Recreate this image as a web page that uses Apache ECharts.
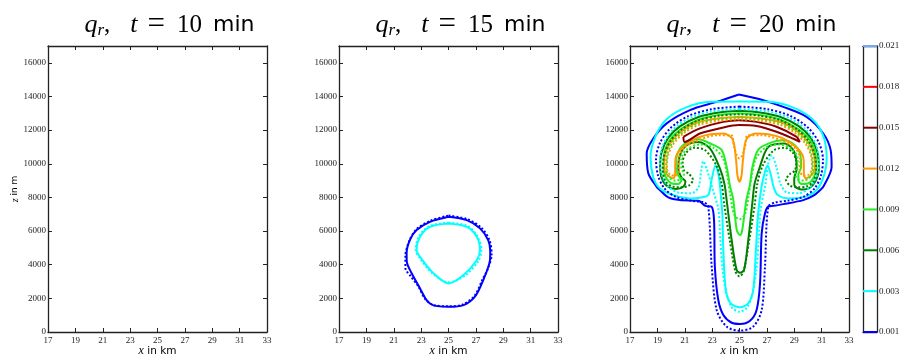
<!DOCTYPE html>
<html>
<head>
<meta charset="utf-8">
<script src="https://cdn.jsdelivr.net/npm/echarts@6/dist/echarts.min.js"></script>
<style>
  html, body { margin: 0; padding: 0; background: #fff; }
  #chart { width: 902px; height: 357px; }
</style>
</head>
<body>
<div id="chart"></div>
<script>
// contour levels of the colour bar
const levels = ["0.001", "0.003", "0.006", "0.009", "0.012", "0.015", "0.018", "0.021"];
const levelColors = ["#0000ff", "#00ffff", "#008000", "#22ee22", "#ff9900", "#8b0000", "#ff0000", "#6fa8ff"];
const times = [10, 15, 20];

// t = 15 min, points are [x in km, z in m]
const blueSolid15 = [[25,6850],[26.33,6650],[27.3,6160],[27.9,5460],[28.05,4800],[28.03,4280],[27.54,3090],[26.93,2100],[26.1,1600],[25,1500],[23.9,1580],[23.4,1900],[22.92,2590],[22.31,3490],[21.95,4200],[21.94,4700],[22.2,5500],[22.67,6060],[23.65,6550],[25,6850]];
const blueDot15 = [[25,6920],[26.4,6700],[27.4,6200],[28.0,5450],[28.15,4600],[27.85,3700],[27.5,3150],[26.9,2150],[26.0,1620],[25,1530],[23.9,1600],[23.3,1950],[22.8,2700],[22.25,3300],[21.85,3800],[21.85,4500],[22.15,5450],[22.65,6100],[23.7,6620],[25,6920]];
const cyanSolid15 = [[25,6450],[26.33,6250],[27.07,5660],[27.3,4870],[27.07,4280],[26.1,3390],[25,2890],[23.9,3490],[22.92,4470],[22.67,4870],[22.92,5660],[23.65,6250],[25,6450]];
const cyanDot15 = [[25,6500],[26.4,6300],[27.1,5700],[27.4,4900],[27.2,4250],[26.2,3350],[25,2950],[23.8,3500],[22.85,4450],[22.6,4900],[22.85,5700],[23.6,6300],[25,6500]];

// t = 20 min
const blueSolid20 = [[24.96,14120],[23.33,13680],[21.38,13190],[19.68,12400],[18.7,11500],[18.22,10610],[18.34,9430],[18.95,8630],[19.19,8430],[19.8,8000],[20.65,7840],[22.0,7800],[22.5,7500],[22.97,7440],[23.14,6650],[23.2,3880],[23.45,1900],[23.82,1010],[24.43,550],[25.04,475],[25.77,670],[26.25,1310],[26.5,2890],[26.62,5860],[26.86,7050],[27.1,7450],[27.5,7500],[28.2,7600],[29.66,7840],[30.4,8100],[30.88,8430],[31.12,8630],[31.73,9820],[31.66,10810],[31.12,11800],[29.9,12790],[28.2,13380],[26.74,13780],[24.96,14120]];
const blueDot20 = [[25,13400],[23,13250],[21.3,12850],[20,12150],[19.2,11250],[18.9,10250],[19.05,9300],[19.5,8550],[20.3,8050],[21.5,7800],[22.4,7700],[22.72,7440],[22.97,3880],[23.33,1310],[24.06,320],[25.04,80],[26,320],[26.62,1310],[26.86,3880],[27.1,7440],[27.6,7700],[28.5,7800],[29.7,8050],[30.5,8550],[30.95,9300],[31.1,10250],[30.8,11250],[30,12150],[28.7,12850],[27,13250],[25,13400]];
const cyanSolid20 = [[25,13700],[22.9,13680],[21.2,13380],[19.73,12690],[18.9,11700],[18.5,10400],[18.7,9200],[19.19,8530],[20.16,8140],[21.4,7940],[22.2,8000],[22.72,8140],[22.95,9000],[23.25,9900],[23.5,9200],[23.65,8000],[23.75,6950],[23.82,4870],[24.0,2490],[24.36,1700],[25.04,1470],[25.64,1700],[26.0,2490],[26.2,4870],[26.35,6950],[26.6,8600],[26.85,9500],[27.05,9900],[27.3,9300],[27.5,8600],[27.8,8140],[28.6,7940],[29.5,7980],[30.5,8330],[31.1,9130],[31.37,10320],[31.1,11700],[30.27,12690],[28.8,13380],[27.1,13680],[25,13700]];
const cyanDot20 = [[25,13250],[23,13120],[21.3,12700],[20.1,12000],[19.4,11100],[19.2,10200],[19.35,9300],[19.85,8600],[20.6,8280],[21.5,8250],[22.0,8600],[22.2,9600],[22.35,10150],[22.6,9700],[23.0,8600],[23.45,7300],[23.6,5500],[23.75,3800],[24.05,2300],[24.45,1450],[25,1200],[25.55,1450],[25.95,2300],[26.25,3800],[26.4,5500],[26.55,7300],[26.9,8800],[27.1,10000],[27.35,10500],[27.7,9800],[28.0,8800],[28.5,8280],[29.4,8250],[30.15,8600],[30.65,9300],[30.8,10200],[30.6,11100],[29.9,12000],[28.7,12700],[27,13120],[25,13250]];
const greenSolid20 = [[25,13150],[23.5,13050],[22,12780],[20.7,12250],[19.8,11550],[19.3,10650],[19.2,9700],[19.43,8930],[19.9,8580],[20.4,8500],[20.9,8650],[21.05,8950],[20.75,9200],[20.53,9720],[20.65,10510],[21.14,11100],[21.99,11300],[22.84,10910],[23.57,9720],[23.9,8800],[24.06,7840],[24.43,5460],[24.79,3680],[25.04,3520],[25.33,3680],[25.64,5460],[25.96,7840],[26.1,8800],[26.45,9720],[27.1,11000],[28.32,11200],[29.0,10710],[29.18,9720],[29.0,9100],[29.0,8750],[29.5,8470],[30.1,8550],[30.55,8950],[30.8,9700],[30.7,10650],[30.2,11550],[29.3,12250],[28,12780],[26.5,13050],[25,13150]];
const greenDot20 = [[25,12950],[23.5,12850],[22,12580],[20.8,12050],[19.95,11350],[19.5,10500],[19.4,9650],[19.6,8950],[20.1,8650],[20.7,8600],[21.3,8700],[21.6,9050],[21.3,9400],[20.95,9600],[20.85,10100],[21.1,10650],[21.7,10950],[22.5,10800],[23.3,9900],[23.7,8800],[23.9,7500],[24.3,5400],[24.7,3600],[25.0,3300],[25.3,3600],[25.7,5400],[26.1,7500],[26.3,8800],[26.7,9900],[27.5,10800],[28.3,10950],[28.9,10650],[29.15,10100],[29.05,9600],[28.7,9400],[28.4,9050],[28.7,8700],[29.3,8600],[29.9,8650],[30.4,8950],[30.6,9650],[30.5,10500],[30.05,11350],[29.2,12050],[28,12580],[26.5,12850],[25,12950]];
const limeSolid20 = [[25,13000],[23.5,12900],[22,12620],[20.8,12100],[19.95,11450],[19.5,10600],[19.45,9750],[19.65,9150],[20.05,8830],[20.5,8800],[20.75,9000],[20.5,9350],[20.35,9800],[20.45,10550],[20.95,11150],[22.0,11450],[23.0,11150],[23.7,10810],[24.06,9820],[24.3,8700],[24.55,7840],[24.8,6060],[25.04,5760],[25.2,6060],[25.5,7840],[25.75,8700],[25.95,9820],[26.35,10810],[27.1,11200],[28.2,11400],[29.05,11100],[29.45,10500],[29.5,9800],[29.3,9350],[29.3,9000],[29.55,8800],[30.0,8830],[30.4,9150],[30.6,9750],[30.55,10600],[30.1,11450],[29.2,12100],[28,12620],[26.5,12900],[25,13000]];
const limeDot20 = [[25,12750],[23.5,12650],[22,12400],[20.9,11900],[20.1,11250],[19.7,10450],[19.65,9700],[19.85,9200],[20.3,9000],[20.75,9100],[20.95,9400],[20.75,9750],[20.75,10300],[21.15,10850],[22.1,11150],[23.1,10950],[23.8,10300],[24.1,9300],[24.35,8000],[24.6,7000],[25.0,6700],[25.4,7000],[25.65,8000],[25.9,9300],[26.2,10300],[26.9,10950],[27.9,11150],[28.85,10850],[29.25,10300],[29.25,9750],[29.05,9400],[29.25,9100],[29.7,9000],[30.15,9200],[30.35,9700],[30.3,10450],[29.9,11250],[29.1,11900],[28,12400],[26.5,12650],[25,12750]];
const orangeSolid20 = [[25,12800],[23.5,12700],[21.9,12450],[20.8,11950],[20.0,11300],[19.55,10500],[19.5,9750],[19.7,9350],[20.16,9130],[20.3,9400],[20.3,9800],[20.35,10410],[20.9,11010],[22.11,11600],[23.82,11800],[24.5,11450],[24.75,10200],[24.85,9300],[25.0,8930],[25.15,9300],[25.25,10200],[25.5,11450],[26.18,11800],[27.89,11600],[29.1,11010],[29.65,10410],[29.7,9800],[29.7,9400],[29.84,9130],[30.3,9350],[30.5,9750],[30.45,10500],[30.0,11300],[29.2,11950],[28.1,12450],[26.5,12700],[25,12800]];
const orangeDot20 = [[25,12650],[23.5,12550],[22,12300],[20.9,11800],[20.15,11150],[19.75,10400],[19.7,9700],[19.95,9350],[20.35,9300],[20.6,9600],[20.55,10200],[20.9,10900],[22.0,11400],[23.4,11700],[24.4,11700],[24.6,11000],[24.8,10500],[25.0,10310],[25.2,10500],[25.4,11000],[25.6,11700],[26.6,11700],[28.0,11400],[29.1,10900],[29.45,10200],[29.4,9600],[29.65,9300],[30.05,9350],[30.3,9700],[30.25,10400],[29.85,11150],[29.1,11800],[28,12300],[26.5,12550],[25,12650]];
const redSolid20 = [[20.9,11600],[22.11,12100],[23.82,12490],[24.96,12590],[26.25,12490],[27.7,12200],[29.18,11600],[29.4,11300],[28.9,11500],[27.7,11900],[26.25,12240],[24.96,12300],[23.82,12160],[22.11,11800],[21.0,11300],[20.9,11600]];

// [panel, level index, dotted, points]
const contours = [
  [1, 0, false, blueSolid15], [1, 0, true, blueDot15],
  [1, 1, false, cyanSolid15], [1, 1, true, cyanDot15],
  [2, 0, false, blueSolid20], [2, 0, true, blueDot20],
  [2, 1, false, cyanSolid20], [2, 1, true, cyanDot20],
  [2, 2, false, greenSolid20], [2, 2, true, greenDot20],
  [2, 3, false, limeSolid20], [2, 3, true, limeDot20],
  [2, 4, false, orangeSolid20], [2, 4, true, orangeDot20],
  [2, 5, false, redSolid20],
];

const chart = echarts.init(document.getElementById("chart"));

const panelLeft = [48, 339, 630];
const plotTop = 46, plotH = 286, plotW = 219;
const serif = "Liberation Serif";
const lineCol = "#222";

const grids = [], xAxes = [], yAxes = [], series = [], titles = [];

panelLeft.forEach((left, g) => {
  grids.push({ left: left, top: plotTop, width: plotW, height: plotH, outerBoundsMode: "none", containLabel: false });
  const tickStyle = { show: true, inside: true, length: 4, lineStyle: { color: lineCol, width: 1 } };
  xAxes.push({
    gridIndex: g, type: "value", min: 17, max: 33, interval: 2, position: "bottom",
    axisLine: { onZero: false, lineStyle: { color: lineCol, width: 1.3 } },
    axisTick: tickStyle, splitLine: { show: false },
    axisLabel: { fontFamily: serif, fontSize: 9, color: lineCol, margin: 4 },
    name: "{i|x}{n| in km}", nameLocation: "middle", nameGap: 13, nameMoveOverlap: false,
    nameTextStyle: { rich: {
      i: { fontFamily: serif, fontStyle: "italic", fontSize: 12, color: "#000" },
      n: { fontFamily: "DejaVu Sans", fontSize: 10.5, color: "#000" } } },
  });
  xAxes.push({
    gridIndex: g, type: "value", min: 17, max: 33, interval: 2, position: "top",
    axisLine: { onZero: false, lineStyle: { color: lineCol, width: 1.3 } },
    axisTick: tickStyle, axisLabel: { show: false }, splitLine: { show: false },
  });
  const yLeft = {
    gridIndex: g, type: "value", min: 0, max: 17000, interval: 2000, position: "left",
    axisLine: { show: true, onZero: false, lineStyle: { color: lineCol, width: 1.3 } },
    axisTick: tickStyle, splitLine: { show: false },
    axisLabel: { fontFamily: serif, fontSize: 9, color: lineCol, margin: 2,
      formatter: (v) => (v === 17000 ? "" : String(v)) },
  };
  if (g === 0) {
    yLeft.name = "{i|z}{n| in m}";
    yLeft.nameLocation = "middle";
    yLeft.nameRotate = 90;
    yLeft.nameGap = 28;
    yLeft.nameMoveOverlap = false;
    yLeft.nameTextStyle = { rich: {
      i: { fontFamily: serif, fontStyle: "italic", fontSize: 10, color: "#000" },
      n: { fontFamily: "DejaVu Sans", fontSize: 9, color: "#000" } } };
  }
  yAxes.push(yLeft);
  yAxes.push({
    gridIndex: g, type: "value", min: 0, max: 17000, interval: 2000, position: "right",
    axisLine: { show: true, onZero: false, lineStyle: { color: lineCol, width: 1.3 } },
    axisTick: tickStyle, axisLabel: { show: false }, splitLine: { show: false },
  });

  titles.push({
    text: "{i|q}{sub|r}{n|,}{g1| }{i|t}{g2| }{eq|=}{g3| }{n|" + times[g] + "}{g4| }{s|min}",
    left: left + plotW / 2 + 7, top: 6, textAlign: "center",
    textStyle: { fontWeight: "normal", rich: {
      i: { fontFamily: serif, fontStyle: "italic", fontWeight: "normal", fontSize: 26, color: "#000", lineHeight: 28 },
      sub: { fontFamily: serif, fontStyle: "italic", fontWeight: "normal", fontSize: 17, color: "#000", lineHeight: 28, verticalAlign: "bottom" },
      n: { fontFamily: serif, fontWeight: "normal", fontSize: 25, color: "#000", lineHeight: 28 },
      eq: { fontFamily: serif, fontWeight: "normal", fontSize: 31, color: "#000", lineHeight: 28 },
      s: { fontFamily: "DejaVu Sans", fontWeight: "normal", fontSize: 22, color: "#000", lineHeight: 28 },
      g1: { width: 20, fontSize: 10 },
      g2: { width: 10, fontSize: 10 },
      g3: { width: 12, fontSize: 10 },
      g4: { width: 11, fontSize: 10 },
    } },
  });
});

// colour bar
grids.push({ left: 863, top: plotTop, width: 14, height: plotH, outerBoundsMode: "none", containLabel: false });
xAxes.push({ gridIndex: 3, type: "value", min: 0, max: 1, position: "bottom",
  axisLine: { onZero: false, lineStyle: { color: lineCol, width: 1.3 } },
  axisTick: { show: false }, axisLabel: { show: false }, splitLine: { show: false } });
xAxes.push({ gridIndex: 3, type: "value", min: 0, max: 1, position: "top",
  axisLine: { onZero: false, lineStyle: { color: lineCol, width: 1.3 } },
  axisTick: { show: false }, axisLabel: { show: false }, splitLine: { show: false } });
yAxes.push({ gridIndex: 3, type: "value", min: 0, max: levels.length - 1, interval: 1, position: "left",
  axisLine: { show: true, onZero: false, lineStyle: { color: lineCol, width: 1.3 } },
  axisTick: { show: false }, axisLabel: { show: false }, splitLine: { show: false } });
yAxes.push({ gridIndex: 3, type: "value", min: 0, max: levels.length - 1, interval: 1, position: "right",
  axisLine: { show: true, onZero: false, lineStyle: { color: lineCol, width: 1.3 } },
  axisTick: { show: false }, splitLine: { show: false },
  axisLabel: { fontFamily: serif, fontSize: 9, color: lineCol, margin: 2,
    formatter: (v) => levels[v] } });

levels.forEach((lv, i) => {
  series.push({
    type: "line", xAxisIndex: 6, yAxisIndex: 6, data: [[0, i], [1, i]],
    showSymbol: false, silent: true, z: 5,
    lineStyle: { color: levelColors[i], width: 2 },
  });
});

contours.forEach(([panel, li, dotted, pts]) => {
  series.push({
    type: "line", xAxisIndex: panel * 2, yAxisIndex: panel * 2, data: pts,
    showSymbol: false, smooth: 0.3, silent: true, z: dotted ? 3 : 2,
    lineStyle: { color: levelColors[li], width: 2, type: dotted ? [2, 2] : "solid" },
  });
});

chart.setOption({
  animation: false,
  backgroundColor: "#fff",
  title: titles,
  grid: grids,
  xAxis: xAxes,
  yAxis: yAxes,
  series: series,
});
</script>
</body>
</html>
